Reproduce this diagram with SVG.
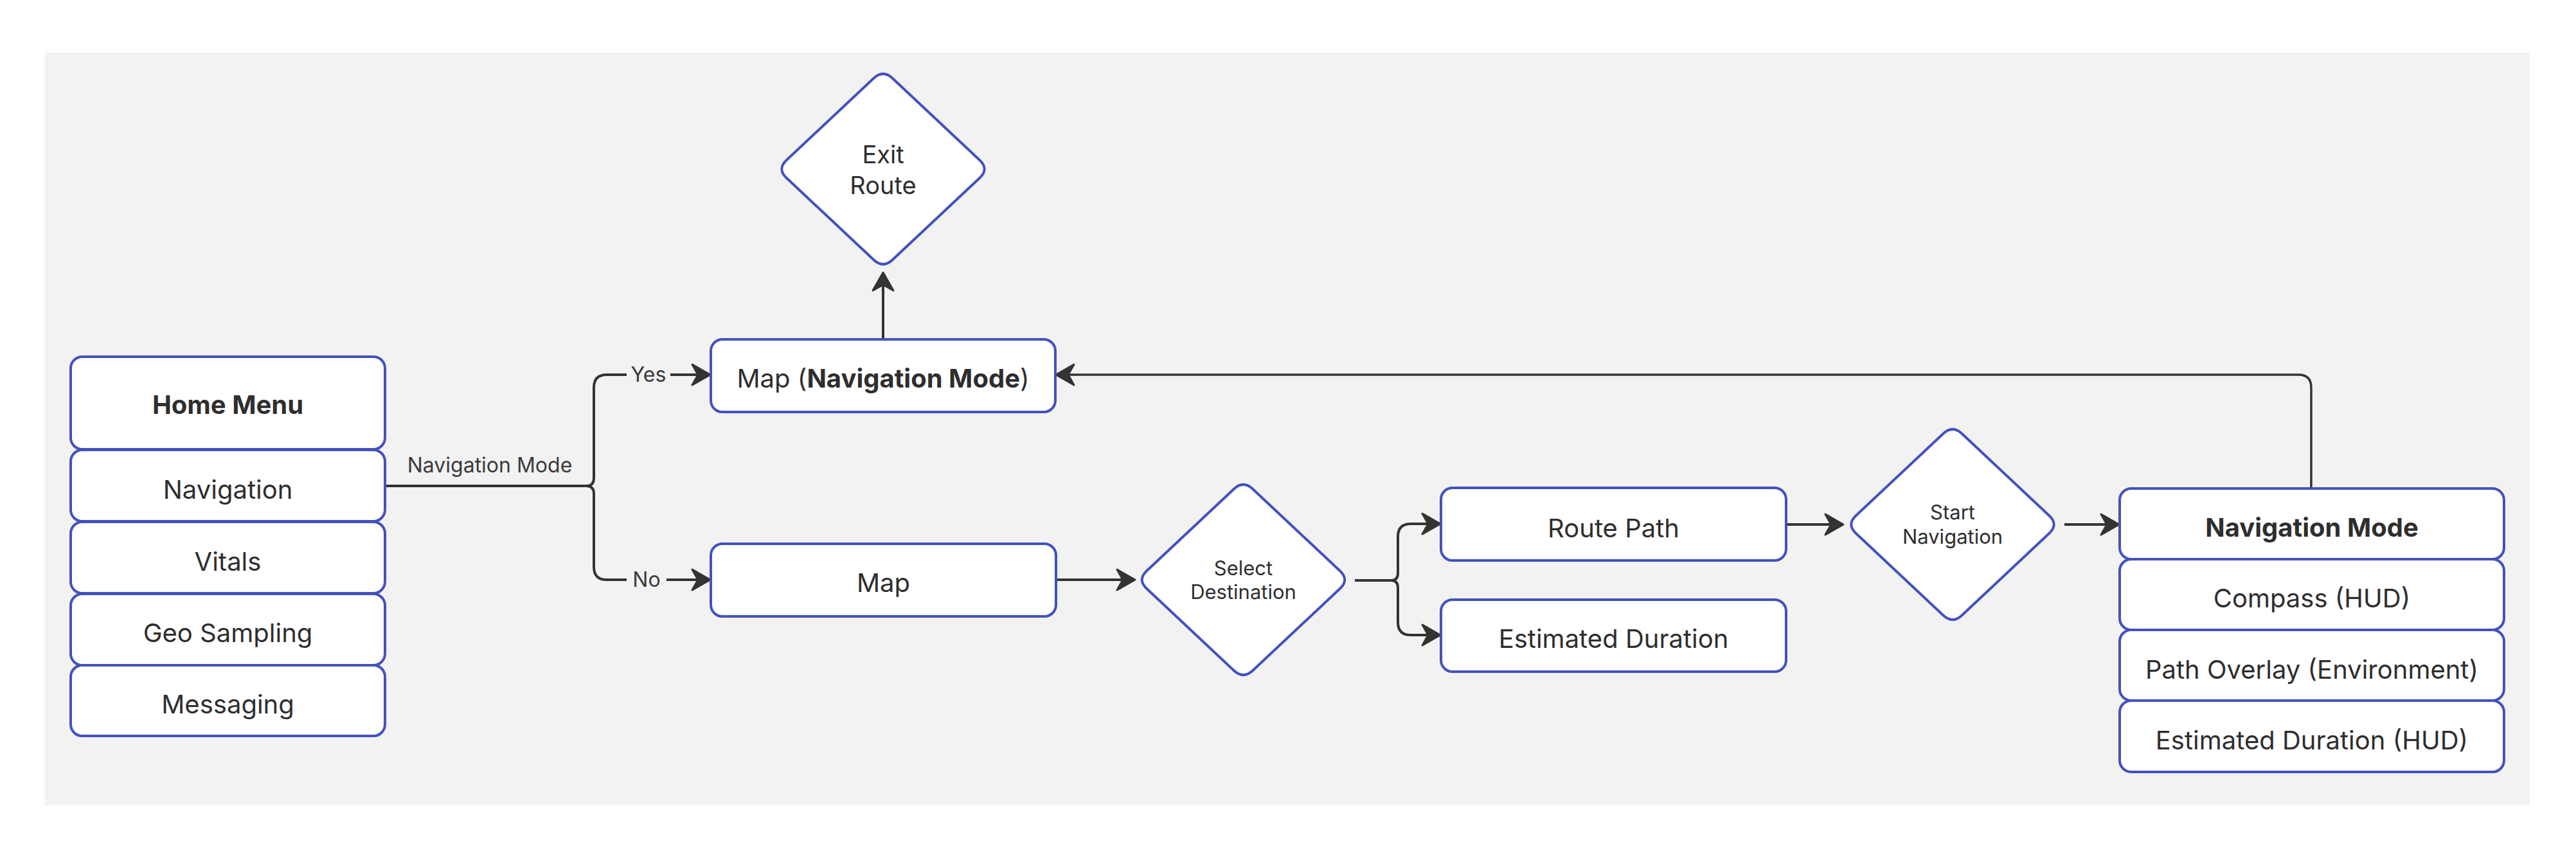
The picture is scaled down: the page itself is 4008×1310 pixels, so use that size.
<svg xmlns="http://www.w3.org/2000/svg" width="4008" height="1310" viewBox="0 0 4008 1310">
<style>
.node{fill:#ffffff;stroke:#4451be;stroke-width:4}
.t{font-family:Inter,"Liberation Sans",sans-serif;font-size:40px;fill:#2e2e2e;text-anchor:middle}
.b{font-weight:700}
.dt{font-family:Inter,"Liberation Sans",sans-serif;font-size:31px;fill:#2e2e2e;text-anchor:middle}
.et{font-family:Inter,"Liberation Sans",sans-serif;font-size:38px;fill:#2e2e2e;text-anchor:middle}
.lbl{font-family:Inter,"Liberation Sans",sans-serif;font-size:32px;fill:#3a3a3a;text-anchor:middle}
.edge{fill:none;stroke:#333333;stroke-width:4;stroke-linejoin:round}
.arr{marker-end:url(#ah)}
</style>
<defs>
<marker id="ah" markerUnits="userSpaceOnUse" viewBox="-32 -20 36 40" refX="0" refY="0" markerWidth="36" markerHeight="40" orient="auto">
<path d="M0,0 L-28,-16 L-19,0 L-28,16 Z" fill="#333333" stroke="#333333" stroke-width="3" stroke-linejoin="round"/>
</marker>
<path id="diamond" d="M-14.6,-141.3 Q0,-155 14.6,-141.3 L150.4,-13.7 Q165,0 150.4,13.7 L14.6,141.3 Q0,155 -14.6,141.3 L-150.4,13.7 Q-165,0 -150.4,-13.7 Z"/>
</defs>
<rect x="70" y="82" width="3866" height="1171" fill="#f2f2f2"/>

<g id="connectors">
<path class="edge" d="M599,756 H912 Q924,756 924,744 V603 Q924,583 944,583 H975"/>
<path class="edge arr" d="M1043,583 H1105"/>
<path class="edge" d="M912,756 Q924,756 924,768 V882 Q924,902 944,902 H975"/>
<path class="edge arr" d="M1037,902 H1105"/>
<path class="edge arr" d="M1374,528 V424"/>
<path class="edge arr" d="M1643,902 H1766"/>
<path class="edge" d="M2108,903 H2164 Q2175,903 2175,892"/>
<path class="edge arr" d="M2175,892 V835 Q2175,815 2195,815 H2241"/>
<path class="edge arr" d="M2164,903 Q2175,903 2175,914 V968 Q2175,988 2195,988 H2241"/>
<path class="edge arr" d="M2779,816 H2868"/>
<path class="edge arr" d="M3212,816 H3297"/>
<path class="edge arr" style="stroke-width:3.5" d="M3596,760 V603 Q3596,583 3576,583 H1643"/>
<text class="lbl" x="762" y="735">Navigation Mode</text>
<text class="lbl" x="1009" y="594">Yes</text>
<text class="lbl" x="1006" y="913">No</text>
</g>

<g id="home-menu">
<rect class="node" x="110" y="555" width="489" height="144" rx="18"/>
<text class="t b" x="354.5" y="644">Home Menu</text>
</g>
<g id="home-navigation">
<rect class="node" x="110" y="700" width="489" height="111" rx="18"/>
<text class="t" x="354.5" y="776">Navigation</text>
</g>
<g id="home-vitals">
<rect class="node" x="110" y="812" width="489" height="111" rx="18"/>
<text class="t" x="354.5" y="888">Vitals</text>
</g>
<g id="home-geo">
<rect class="node" x="110" y="924" width="489" height="111" rx="18"/>
<text class="t" x="354.5" y="999">Geo Sampling</text>
</g>
<g id="home-messaging">
<rect class="node" x="110" y="1035" width="489" height="110" rx="18"/>
<text class="t" x="354.5" y="1110">Messaging</text>
</g>

<g id="exit-route">
<use href="#diamond" class="node" transform="translate(1374,263)"/>
<text class="et" x="1374" y="254">Exit</text>
<text class="et" x="1374" y="302">Route</text>
</g>

<g id="map-nav-mode">
<rect class="node" x="1106" y="528" width="536" height="113" rx="18"/>
<text class="t" x="1374" y="603">Map (<tspan class="b">Navigation Mode</tspan>)</text>
</g>

<g id="map">
<rect class="node" x="1106" y="846" width="537" height="113" rx="18"/>
<text class="t" x="1374.5" y="921">Map</text>
</g>

<g id="select-destination">
<use href="#diamond" class="node" transform="translate(1934.5,902)"/>
<text class="dt" x="1934.5" y="895">Select</text>
<text class="dt" x="1934.5" y="932">Destination</text>
</g>

<g id="route-path">
<rect class="node" x="2242" y="759" width="537" height="113" rx="18"/>
<text class="t" x="2510.5" y="836">Route Path</text>
</g>

<g id="estimated-duration">
<rect class="node" x="2242" y="933" width="537" height="112" rx="18"/>
<text class="t" x="2510.5" y="1008">Estimated Duration</text>
</g>

<g id="start-navigation">
<use href="#diamond" class="node" transform="translate(3038,816)"/>
<text class="dt" x="3038" y="808">Start</text>
<text class="dt" x="3038" y="846">Navigation</text>
</g>

<g id="navigation-mode">
<rect class="node" x="3298" y="760" width="598" height="110" rx="18"/>
<text class="t b" x="3597" y="835">Navigation Mode</text>
</g>
<g id="nav-compass">
<rect class="node" x="3298" y="870" width="598" height="110" rx="18"/>
<text class="t" x="3597" y="945">Compass (HUD)</text>
</g>
<g id="nav-path-overlay">
<rect class="node" x="3298" y="980" width="598" height="110" rx="18"/>
<text class="t" x="3597" y="1056">Path Overlay (Environment)</text>
</g>
<g id="nav-estimated-duration">
<rect class="node" x="3298" y="1090" width="598" height="111" rx="18"/>
<text class="t" x="3597" y="1166">Estimated Duration (HUD)</text>
</g>
</svg>
